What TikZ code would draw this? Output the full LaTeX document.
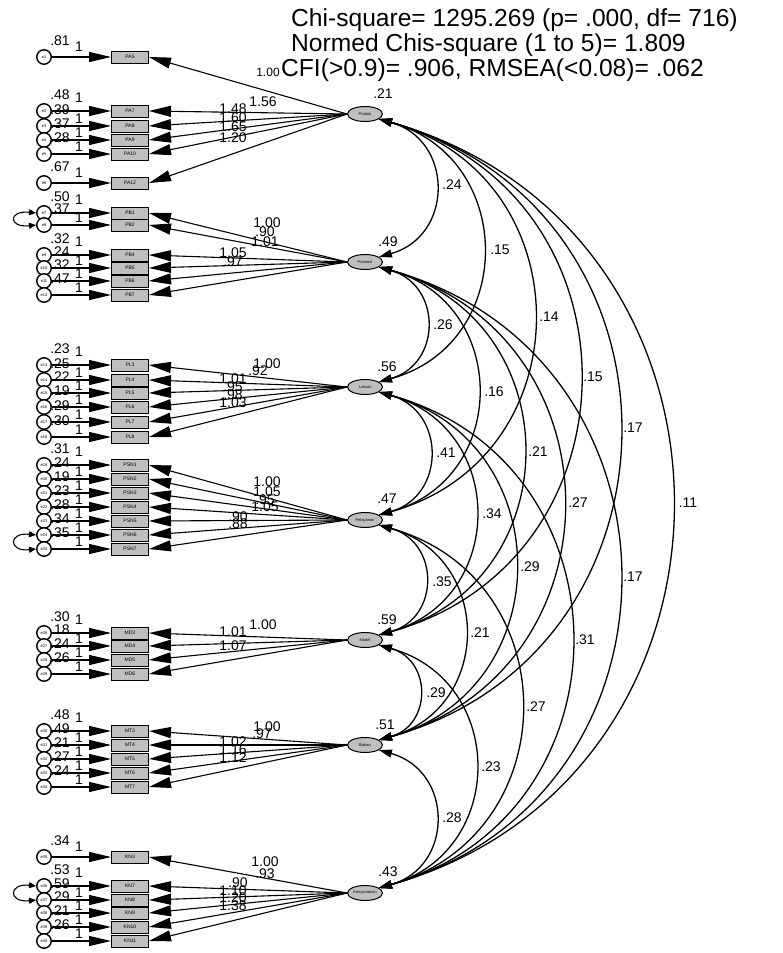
\documentclass[tikz,border=0pt]{standalone}
\usepackage{fontspec}
\setmainfont{Liberation Sans}
\usetikzlibrary{arrows.meta,shapes.geometric}
\tikzset{
  box/.style={draw,line width=1pt,fill=black!25,minimum width=37pt,minimum height=12pt,inner sep=0pt,font=\fontsize{5}{5}\selectfont},
  errc/.style={draw,circle,line width=1.4pt,fill=white,minimum size=14.5pt,inner sep=0pt,font=\fontsize{4}{4}\selectfont},
  fac/.style={draw,ellipse,line width=1pt,fill=black!25,minimum width=35pt,minimum height=15pt,inner sep=0pt,font=\fontsize{4}{4}\selectfont},
  ld/.style={line width=1.1pt,-{Triangle[length=22pt,width=11pt]}},
  ea/.style={line width=1.1pt,-{Triangle[length=22pt,width=10pt]}},
  cv/.style={line width=1.3pt,{Triangle[length=13pt,width=8pt]}-{Triangle[length=13pt,width=8pt]}},
  cvs/.style={line width=1.1pt,{Triangle[length=7pt,width=6pt]}-{Triangle[length=7pt,width=6pt]}},
  lab/.style={inner sep=0pt,font=\fontsize{14}{14}\selectfont},
  hdr/.style={inner sep=0pt,anchor=base west,font=\fontsize{24.6}{24.6}\selectfont},
}
\newcommand\indrow[6]{%
  \node[box] (#1) at (130,#2) {#3};
  \node[errc] (e#1) at (44,#2) {#4};
  \node[lab] (v#1) at (60,{#2-16}) {#5};
  \node[lab] (o#1) at (79,{#2-#6}) {1};
  \draw[ea] (e#1) -- (#1);
}
\begin{document}
\begin{tikzpicture}[x=1pt,y=-1pt]
\useasboundingbox (0,0) rectangle (782,953);
% header
\node[hdr] (h1) at (291,27) {Chi-square= 1295.269 (p= .000, df= 716)};
\node[hdr] (h2) at (291,51.5) {Normed Chis-square (1 to 5)= 1.809};
\node[hdr] (h3) at (281,76) {CFI(>0.9)= .906, RMSEA(<0.08)= .062};
% factors
\node[fac] (f1) at (365,114) {Produk};
\node[fac] (f2) at (365,262) {Promosi};
\node[fac] (f3) at (365,387) {Lokasi};
\node[fac] (f4) at (365,520) {Pelayanan};
\node[fac] (f5) at (365,640) {Model};
\node[fac] (f6) at (365,745) {Bahan};
\node[fac] (f7) at (365,893) {Kenyamanan};
\node[lab] (r1) at (383,94) {.21};
\node[lab] (r2) at (388,242) {.49};
\node[lab] (r3) at (387,367) {.56};
\node[lab] (r4) at (387,499) {.47};
\node[lab] (r5) at (387,620) {.59};
\node[lab] (r6) at (385,725) {.51};
\node[lab] (r7) at (388,872) {.43};
% indicators: name, y, text, err, var, offset of "1"
\indrow{PA5}{57}{PA5}{e1}{.81}{10}
\indrow{PA7}{111}{PA7}{e2}{.48}{13}
\indrow{PA8}{126}{PA8}{e3}{.39}{7}
\indrow{PA9}{140}{PA9}{e4}{.37}{7}
\indrow{PA10}{154}{PA10}{e5}{.28}{7}
\indrow{PA12}{183}{PA12}{e6}{.67}{10}
\indrow{PB1}{213}{PB1}{e7}{.50}{13}
\indrow{PB2}{225}{PB2}{e8}{.37}{7}
\indrow{PB4}{255}{PB4}{e9}{.32}{13}
\indrow{PB5}{268}{PB5}{e10}{.24}{7}
\indrow{PB6}{281}{PB6}{e11}{.32}{7}
\indrow{PB7}{295}{PB7}{e12}{.47}{7}
\indrow{PL3}{365}{PL3}{e13}{.23}{13}
\indrow{PL4}{380}{PL4}{e14}{.25}{7}
\indrow{PL5}{393}{PL5}{e15}{.22}{7}
\indrow{PL6}{407}{PL6}{e16}{.19}{7}
\indrow{PL7}{422}{PL7}{e17}{.29}{7}
\indrow{PL8}{437}{PL8}{e18}{.30}{7}
\indrow{PSN1}{465}{PSN1}{e19}{.31}{13}
\indrow{PSN2}{479}{PSN2}{e20}{.24}{7}
\indrow{PSN3}{493}{PSN3}{e21}{.19}{7}
\indrow{PSN4}{507}{PSN4}{e22}{.23}{7}
\indrow{PSN5}{521}{PSN5}{e23}{.28}{7}
\indrow{PSN6}{535}{PSN6}{e24}{.34}{7}
\indrow{PSN7}{549}{PSN7}{e25}{.35}{7}
\indrow{MD3}{633}{MD3}{e26}{.30}{13}
\indrow{MD4}{646}{MD4}{e27}{.18}{7}
\indrow{MD5}{660}{MD5}{e28}{.24}{7}
\indrow{MD6}{674}{MD6}{e29}{.26}{7}
\indrow{MT3}{731}{MT3}{e30}{.48}{13}
\indrow{MT4}{745}{MT4}{e31}{.49}{7}
\indrow{MT5}{759}{MT5}{e32}{.21}{7}
\indrow{MT6}{773}{MT6}{e33}{.27}{7}
\indrow{MT7}{787}{MT7}{e34}{.24}{7}
\indrow{KN3}{857}{KN3}{e35}{.34}{10}
\indrow{KN7}{886}{KN7}{e36}{.53}{13}
\indrow{KN8}{900}{KN8}{e37}{.59}{7}
\indrow{KN9}{913}{KN9}{e38}{.29}{7}
\indrow{KN10}{927}{KN10}{e39}{.21}{7}
\indrow{KN11}{941}{KN11}{e40}{.26}{7}
% loadings
\foreach \b in {PA5,PA7,PA8,PA9,PA10,PA12} \draw[ld] (f1.west) -- (\b.east);
\foreach \b in {PB1,PB2,PB4,PB5,PB6,PB7} \draw[ld] (f2.west) -- (\b.east);
\foreach \b in {PL3,PL4,PL5,PL6,PL7,PL8} \draw[ld] (f3.west) -- (\b.east);
\foreach \b in {PSN1,PSN2,PSN3,PSN4,PSN5,PSN6,PSN7} \draw[ld] (f4.west) -- (\b.east);
\foreach \b in {MD3,MD4,MD5,MD6} \draw[ld] (f5.west) -- (\b.east);
\foreach \b in {MT3,MT4,MT5,MT6,MT7} \draw[ld] (f6.west) -- (\b.east);
\foreach \b in {KN3,KN7,KN8,KN9,KN10,KN11} \draw[ld] (f7.west) -- (\b.east);
% loading labels
\node[lab,font=\fontsize{12}{12}\selectfont] (l1) at (268,72) {1.00};
\node[lab] (l2) at (263,102) {1.56};
\node[lab] (l3) at (233,109) {1.48};
\node[lab] (l4) at (233,118) {1.60};
\node[lab] (l5) at (233,127) {1.65};
\node[lab] (l6) at (233,138) {1.20};
\node[lab] (l7) at (267,223) {1.00};
\node[lab] (l8) at (265,232) {.90};
\node[lab] (l9) at (265,242) {1.01};
\node[lab] (l10) at (233,253) {1.05};
\node[lab] (l11) at (233,262) {.97};
\node[lab] (l12) at (267,364) {1.00};
\node[lab] (l13) at (258,371) {.92};
\node[lab] (l14) at (233,379) {1.01};
\node[lab] (l15) at (233,387) {.95};
\node[lab] (l16) at (233,395) {.98};
\node[lab] (l17) at (233,403) {1.03};
\node[lab] (l18) at (267,482) {1.00};
\node[lab] (l19) at (267,492) {1.05};
\node[lab] (l20) at (265,500) {.95};
\node[lab] (l21) at (265,507) {1.05};
\node[lab] (l22) at (238,517) {.90};
\node[lab] (l23) at (238,524) {.88};
\node[lab] (l24) at (263,625) {1.00};
\node[lab] (l25) at (233,632) {1.01};
\node[lab] (l26) at (233,646) {1.07};
\node[lab] (l27) at (267,727) {1.00};
\node[lab] (l28) at (262,734) {.97};
\node[lab] (l29) at (233,742) {1.02};
\node[lab] (l30) at (233,750) {1.16};
\node[lab] (l31) at (233,758) {1.12};
\node[lab] (l32) at (265,862) {1.00};
\node[lab] (l33) at (265,874) {.93};
\node[lab] (l34) at (238,883) {.90};
\node[lab] (l35) at (233,891) {1.10};
\node[lab] (l36) at (233,898) {1.20};
\node[lab] (l37) at (233,906) {1.38};
% error covariances
\draw[cvs] (ePB1.west) .. controls +(-28,-3) and +(-28,3) .. (ePB2.west);
\draw[cvs] (ePSN6.west) .. controls +(-28,-3) and +(-28,3) .. (ePSN7.west);
\draw[cvs] (eKN7.west) .. controls +(-28,-3) and +(-28,3) .. (eKN8.west);
% factor covariances
\draw[cv] (f1.-20) .. controls +(75,21) and +(75,-21) .. (f2.20);
\draw[cv] (f1.-20) .. controls +(138,38) and +(138,-38) .. (f3.20);
\draw[cv] (f1.-20) .. controls +(206,57) and +(206,-57) .. (f4.20);
\draw[cv] (f1.-20) .. controls +(267,74) and +(267,-74) .. (f5.20);
\draw[cv] (f1.-20) .. controls +(320,89) and +(320,-89) .. (f6.20);
\draw[cv] (f1.-20) .. controls +(390,110) and +(390,-110) .. (f7.20);
\draw[cv] (f2.-20) .. controls +(63,18) and +(63,-18) .. (f3.20);
\draw[cv] (f2.-20) .. controls +(131,36) and +(131,-36) .. (f4.20);
\draw[cv] (f2.-20) .. controls +(192,53) and +(192,-53) .. (f5.20);
\draw[cv] (f2.-20) .. controls +(245,68) and +(245,-68) .. (f6.20);
\draw[cv] (f2.-20) .. controls +(320,89) and +(320,-89) .. (f7.20);
\draw[cv] (f3.-20) .. controls +(67,19) and +(67,-19) .. (f4.20);
\draw[cv] (f3.-20) .. controls +(128,36) and +(128,-36) .. (f5.20);
\draw[cv] (f3.-20) .. controls +(181,50) and +(181,-50) .. (f6.20);
\draw[cv] (f3.-20) .. controls +(256,71) and +(256,-71) .. (f7.20);
\draw[cv] (f4.-20) .. controls +(61,17) and +(61,-17) .. (f5.20);
\draw[cv] (f4.-20) .. controls +(114,32) and +(114,-32) .. (f6.20);
\draw[cv] (f4.-20) .. controls +(189,53) and +(189,-53) .. (f7.20);
\draw[cv] (f5.-20) .. controls +(53,15) and +(53,-15) .. (f6.20);
\draw[cv] (f5.-20) .. controls +(128,36) and +(128,-36) .. (f7.20);
\draw[cv] (f6.-20) .. controls +(75,21) and +(75,-21) .. (f7.20);
% covariance labels
\node[lab] (c12) at (452,185) {.24};
\node[lab] (c13) at (500,250) {.15};
\node[lab] (c14) at (549,317) {.14};
\node[lab] (c15) at (593,377) {.15};
\node[lab] (c16) at (633,428) {.17};
\node[lab] (c17) at (688,503) {.11};
\node[lab] (c23) at (443,325) {.26};
\node[lab] (c24) at (494,392) {.16};
\node[lab] (c25) at (538,452) {.21};
\node[lab] (c26) at (578,503) {.27};
\node[lab] (c27) at (633,577) {.17};
\node[lab] (c34) at (446,453) {.41};
\node[lab] (c35) at (492,514) {.34};
\node[lab] (c36) at (530,567) {.29};
\node[lab] (c37) at (585,640) {.31};
\node[lab] (c45) at (442,582) {.35};
\node[lab] (c46) at (480,633) {.21};
\node[lab] (c47) at (536,707) {.27};
\node[lab] (c56) at (436,693) {.29};
\node[lab] (c57) at (491,767) {.23};
\node[lab] (c67) at (452,818) {.28};
\end{tikzpicture}
\end{document}
